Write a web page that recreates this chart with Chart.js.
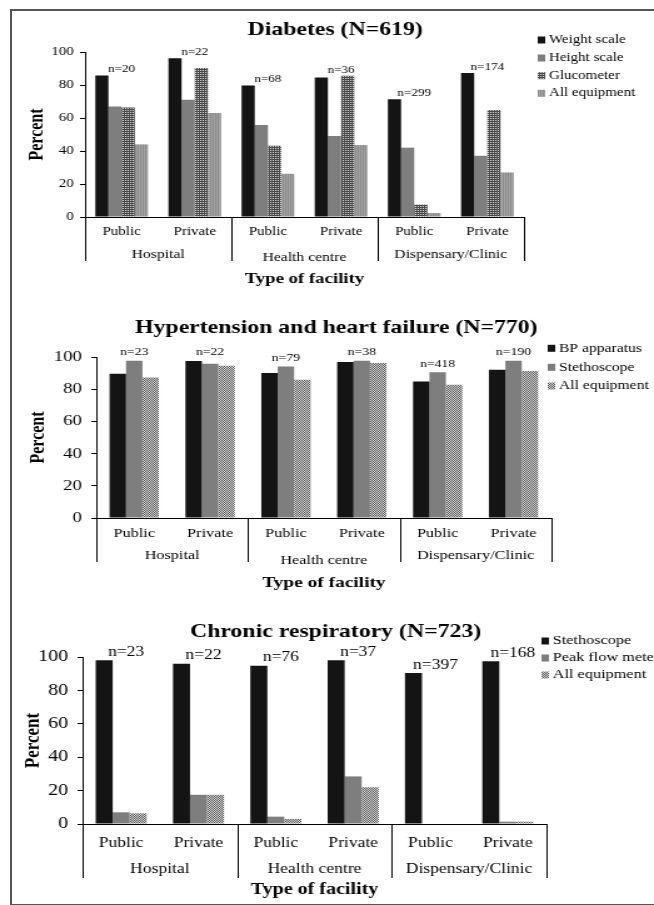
<!DOCTYPE html>
<html>
<head>
<meta charset="utf-8">
<script src="https://cdn.jsdelivr.net/npm/chart.js@4"></script>
<style>
  html, body { margin:0; padding:0; background:#fff; width:654px; height:905px; overflow:hidden; }
  .frame { position:absolute; left:10px; top:9px; width:700px; height:893px; border-left:2px solid #555; border-top:2px solid #555; border-bottom:2px solid #555; }
  canvas { position:absolute; left:0; }
</style>
</head>
<body>
<div class="frame"></div>
<canvas id="c1" width="523" height="300" style="top:0px;width:654px;height:300px"></canvas>
<canvas id="c2" width="523" height="300" style="top:300px;width:654px;height:300px"></canvas>
<canvas id="c3" width="523" height="305" style="top:600px;width:654px;height:305px"></canvas>
<script>
// ---------- DATA ----------
const categories = ['Public', 'Private', 'Public', 'Private', 'Public', 'Private'];
const facilityGroups = ['Hospital', 'Health centre', 'Dispensary/Clinic'];

const diabetesWeightScale = [85.8, 96.2, 79.7, 84.6, 71.4, 87.3];
const diabetesHeightScale = [67.0, 71.0, 55.8, 49.1, 42.0, 37.1];
const diabetesGlucometer  = [66.3, 90.3, 43.2, 85.6, 7.5, 64.9];
const diabetesAllEquip    = [44.0, 63.1, 26.2, 43.6, 2.4, 27.0];
const diabetesN           = [20, 22, 68, 36, 299, 174];

const htBPApparatus = [89.6, 97.5, 90.0, 96.9, 84.8, 92.1];
const htStethoscope = [97.7, 95.8, 94.1, 97.7, 90.6, 97.7];
const htAllEquip    = [87.3, 94.6, 85.8, 96.3, 82.7, 91.3];
const htN           = [23, 22, 79, 38, 418, 190];

const crStethoscope = [98.0, 96.0, 94.8, 98.0, 90.4, 97.4];
const crPeakFlow    = [7.0, 17.5, 4.4, 28.5, 0, 1.4];
const crAllEquip    = [6.4, 17.5, 3.0, 22.0, 0, 1.4];
const crN           = [23, 22, 76, 37, 397, 168];

const yMin = 0, yMax = 100, yStep = 20;

// ---------- STYLE ----------
const SERIF = "'Liberation Serif','Times New Roman',serif";
const BLACK = '#141414';
const GRAY = '#7e7e7e';

function pattern(w, h, draw) {
  const c = document.createElement('canvas');
  c.width = w; c.height = h;
  const g = c.getContext('2d');
  draw(g);
  return g.createPattern(c, 'repeat');
}
const checkerDark = pattern(2, 2, g => {
  g.fillStyle = '#4a4a4a'; g.fillRect(0, 0, 2, 2);
  g.fillStyle = '#d4d4d4'; g.fillRect(0, 0, 1, 1);
});
const checkerMid = pattern(2, 2, g => {
  g.fillStyle = '#5a5a5a'; g.fillRect(0, 0, 2, 2);
  g.fillStyle = '#d8d8d8'; g.fillRect(0, 0, 1, 1); g.fillRect(1, 1, 1, 1);
});
const stripeLight = pattern(2, 1, g => {
  g.fillStyle = '#8c8c8c'; g.fillRect(0, 0, 2, 1);
  g.fillStyle = '#a2a2a2'; g.fillRect(1, 0, 1, 1);
});

const CW = 523;

const facilityPlugin = {
  id: 'facility',
  afterDraw(chart) {
    const o = chart.options.plugins.facility;
    const { ctx, chartArea } = chart;
    const { left, right, top, bottom } = chartArea;
    const xs = chart.scales.x, ys = chart.scales.y;
    const n = chart.data.labels.length;
    const w = (right - left) / n;
    ctx.save();
    // group separators
    ctx.strokeStyle = '#000';
    ctx.lineWidth = 1;
    for (let g = 0; g <= facilityGroups.length; g++) {
      const px = Math.round(left + g * 2 * w) + 0.5;
      ctx.beginPath();
      ctx.moveTo(px, bottom);
      ctx.lineTo(px, o.groupLineBottom);
      ctx.stroke();
    }
    // group labels
    ctx.fillStyle = '#000';
    ctx.textAlign = 'center';
    ctx.textBaseline = 'middle';
    ctx.font = o.groupFont + 'px ' + SERIF;
    facilityGroups.forEach((name, g) => {
      const cx = left + (g * 2 + 1) * w;
      ctx.fillText(name, cx, o.groupY + (o.groupDy ? o.groupDy[g] : 0));
    });
    // n labels
    ctx.font = o.nFont + 'px ' + SERIF;
    o.nValues.forEach((nv, i) => {
      let mx = 0;
      chart.data.datasets.forEach(d => { mx = Math.max(mx, d.data[i]); });
      const px = xs.getPixelForValue(i) + o.nDx;
      const py = ys.getPixelForValue(mx) - o.nGap;
      ctx.fillText('n=' + nv, px, py);
    });
    // title
    ctx.font = 'bold ' + o.titleFont + 'px ' + SERIF;
    ctx.fillText(o.title, o.titleX, o.titleY);
    // legend
    ctx.textAlign = 'left';
    ctx.font = o.legendFont + 'px ' + SERIF;
    chart.data.datasets.forEach((d, k) => {
      const ly = o.legendY[k];
      ctx.fillStyle = d.backgroundColor;
      ctx.fillRect(o.legendX, ly - 3.5, 6, 7);
      ctx.fillStyle = '#000';
      ctx.fillText(d.label, o.legendTextX, ly);
    });
    ctx.restore();
  }
};

function build(id, H, plot, spec) {
  const ctx = document.getElementById(id);
  const xH = spec.xAxisBottom - plot.bottom;
  return new Chart(ctx, {
    type: 'bar',
    data: {
      labels: categories,
      datasets: spec.datasets.map(d => ({
        label: d.label, data: d.data, backgroundColor: d.color,
        borderWidth: 0, barPercentage: 1, categoryPercentage: spec.catPct
      }))
    },
    plugins: [facilityPlugin],
    options: {
      responsive: false, animation: false, devicePixelRatio: 1,
      layout: { padding: { left: 0, top: plot.top, right: CW - plot.right, bottom: H - spec.xAxisBottom } },
      plugins: {
        legend: { display: false }, tooltip: { enabled: false }, title: { display: false },
        facility: spec.deco
      },
      scales: {
        x: {
          type: 'category',
          grid: { display: false, drawTicks: false },
          border: { display: true, color: '#000', width: 1 },
          ticks: { color: '#000', font: { family: SERIF, size: spec.xTickFont }, padding: spec.xTickPad, maxRotation: 0, autoSkip: false },
          title: { display: true, text: 'Type of facility', color: '#000',
                   font: { family: SERIF, size: spec.xTitleFont, weight: 'bold' }, padding: { top: 0, bottom: spec.xTitlePad } },
          afterFit: s => { s.height = xH; }
        },
        y: {
          min: yMin, max: yMax,
          ticks: { stepSize: yStep, color: '#000', font: { family: SERIF, size: spec.yTickFont }, padding: spec.yTickPad },
          grid: { display: true, drawOnChartArea: false, drawTicks: true, tickLength: 4, color: '#000' },
          border: { display: true, color: '#000', width: 1 },
          title: { display: true, text: 'Percent', color: '#000',
                   font: { family: SERIF, size: spec.yTitleFont, weight: 'bold' }, padding: { top: spec.yTitlePad, bottom: 0 } },
          afterFit: s => { s.width = plot.left; }
        }
      }
    }
  });
}

// Chart 1: Diabetes
build('c1', 300, { left: 68, right: 419, top: 52, bottom: 217 }, {
  catPct: 0.72,
  xAxisBottom: 292,
  xTickFont: 12, xTickPad: 7.8, xTitleFont: 15, xTitlePad: 4,
  yTickFont: 12, yTickPad: 5, yTitleFont: 16, yTitlePad: 20.4,
  datasets: [
    { label: 'Weight scale', data: diabetesWeightScale, color: BLACK },
    { label: 'Height scale', data: diabetesHeightScale, color: GRAY },
    { label: 'Glucometer', data: diabetesGlucometer, color: checkerDark },
    { label: 'All equipment', data: diabetesAllEquip, color: stripeLight }
  ],
  deco: {
    title: 'Diabetes (N=619)', titleX: 268, titleY: 30, titleFont: 19,
    groupFont: 12.5, groupY: 255, groupDy: [0, 3, 0], groupLineBottom: 261,
    nValues: diabetesN, nFont: 10.5, nGap: 6, nDx: 0,
    legendX: 430, legendTextX: 439, legendY: [40, 58, 75.7, 93.3], legendFont: 12
  }
});

// Chart 2: Hypertension and heart failure
build('c2', 300, { left: 77, right: 441, top: 57, bottom: 218 }, {
  catPct: 0.65,
  xAxisBottom: 296,
  xTickFont: 13, xTickPad: 7.5, xTitleFont: 15.5, xTitlePad: 3.7,
  yTickFont: 15, yTickPad: 7.5, yTitleFont: 16, yTitlePad: 21.4,
  datasets: [
    { label: 'BP apparatus', data: htBPApparatus, color: BLACK },
    { label: 'Stethoscope', data: htStethoscope, color: GRAY },
    { label: 'All equipment', data: htAllEquip, color: checkerMid }
  ],
  deco: {
    title: 'Hypertension and heart failure (N=770)', titleX: 269, titleY: 28, titleFont: 19,
    groupFont: 13, groupY: 256, groupDy: [0, 5, 0], groupLineBottom: 262,
    nValues: htN, nFont: 11, nGap: 8.5, nDx: 0,
    legendX: 438, legendTextX: 447, legendY: [48.3, 67.3, 86], legendFont: 12.5
  }
});

// Chart 3: Chronic respiratory
build('c3', 305, { left: 66, right: 437, top: 57, bottom: 224 }, {
  catPct: 0.66,
  xAxisBottom: 300,
  xTickFont: 14, xTickPad: 10.6, xTitleFont: 16, xTitlePad: 0.4,
  yTickFont: 16, yTickPad: 7.4, yTitleFont: 17, yTitlePad: 16.2,
  datasets: [
    { label: 'Stethoscope', data: crStethoscope, color: BLACK },
    { label: 'Peak flow meter', data: crPeakFlow, color: GRAY },
    { label: 'All equipment', data: crAllEquip, color: checkerMid }
  ],
  deco: {
    title: 'Chronic respiratory (N=723)', titleX: 268.4, titleY: 32, titleFont: 19,
    groupFont: 14, groupY: 269, groupDy: [0, 0, 0], groupLineBottom: 278,
    nValues: crN, nFont: 14, nGap: 8, nDx: 4,
    legendX: 433, legendTextX: 442, legendY: [41, 58, 75], legendFont: 13
  }
});
</script>
</body>
</html>
